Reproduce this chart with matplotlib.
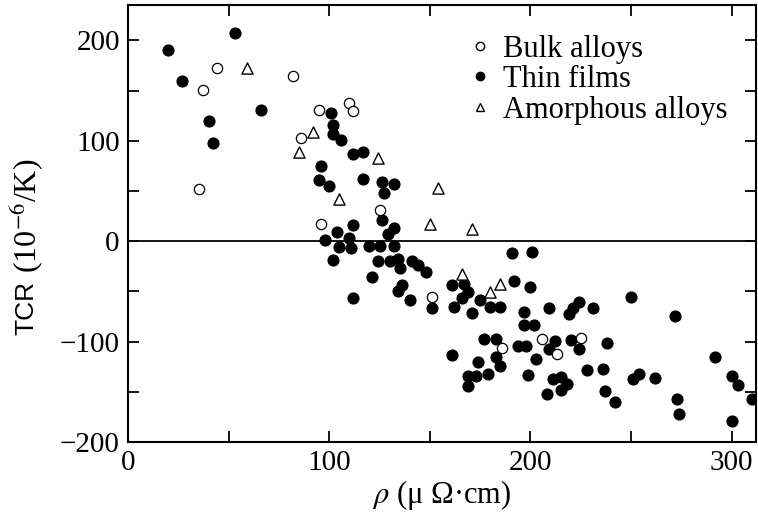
import matplotlib
matplotlib.use("Agg")
import matplotlib.pyplot as plt
from matplotlib.lines import Line2D
from matplotlib.ticker import MultipleLocator

plt.rcParams['font.family'] = ['Liberation Serif', 'DejaVu Serif']
plt.rcParams['mathtext.fontset'] = 'stix'

# resistivity (uOhm cm) and TCR (1e-6/K)
bulk_rho = [35, 37, 44, 82, 86, 95, 96, 110, 112, 125, 151, 186, 206, 213, 225]
bulk_tcr = [52, 151, 172, 165, 103, 131, 17, 138, 130, 31, -56, -106, -97, -112, -96]

amor_rho = [59, 85, 92, 105, 124, 150, 154, 171, 166, 180, 185]
amor_tcr = [172, 89, 109, 42, 83, 17, 53, 12, -33, -51, -43]

film_rho = [20, 27, 40, 42, 53, 66,
            95, 96, 98, 100, 101, 102, 102, 106, 112, 117, 117, 126, 132, 127,
            126, 112, 132, 129, 104, 110, 105, 111, 120, 125, 132, 102, 124, 130,
            134, 135, 141, 144, 148, 121, 136, 134, 140, 112, 151, 161, 167, 169,
            166, 162, 171, 175, 180, 185, 177, 183, 161, 174, 169, 173, 179, 169,
            183, 185, 191, 201, 192, 200, 197, 197, 202, 209, 219, 221, 224, 231,
            250, 272, 194, 198, 203, 199, 212, 209, 220, 224, 238, 211, 215, 218,
            215, 208, 228, 236, 237, 242, 251, 254, 262, 273, 274, 292, 300, 303,
            300, 310]
film_tcr = [190, 160, 120, 98, 207, 131,
            61, 75, 1, 55, 128, 116, 107, 101, 87, 89, 62, 59, 57, 48,
            21, 16, 13, 7, 9, 3, -6, -7, -5, -5, -5, -19, -20, -20,
            -18, -27, -20, -24, -31, -36, -44, -50, -59, -57, -67, -44, -43, -51,
            -57, -66, -72, -59, -66, -66, -97, -97, -113, -120, -134, -134, -132, -144,
            -115, -124, -12, -11, -40, -46, -71, -84, -84, -67, -73, -67, -61, -67,
            -56, -75, -104, -104, -117, -133, -99, -107, -98, -107, -101, -137, -135, -142,
            -148, -152, -128, -127, -149, -160, -137, -132, -136, -157, -172, -115, -134, -143,
            -179, -157]

fig = plt.figure(figsize=(7.58, 5.23), dpi=100)
ax = fig.add_axes([0.169, 0.155, 0.828, 0.835])

ax.axhline(0, color='black', lw=1.3, zorder=1)
ax.scatter(film_rho, film_tcr, s=60, c='black', edgecolors='black', zorder=3)
ax.scatter(bulk_rho, bulk_tcr, s=55, facecolors='white', edgecolors='black',
           linewidths=0.9, zorder=4)
ax.scatter(amor_rho, amor_tcr, s=65, marker='^', facecolors='white',
           edgecolors='black', linewidths=1.0, zorder=4)

ax.set_xlim(0, 312)
ax.set_ylim(-200, 235)
ax.xaxis.set_major_locator(MultipleLocator(100))
ax.xaxis.set_minor_locator(MultipleLocator(50))
ax.yaxis.set_major_locator(MultipleLocator(100))
ax.yaxis.set_minor_locator(MultipleLocator(50))
ax.tick_params(which='both', direction='in', top=True, right=True,
               length=8, width=1.3, labelsize=21, pad=6)
for sp in ax.spines.values():
    sp.set_linewidth(1.5)

ax.set_xlabel(r'$\rho$ (μ Ω·cm)', fontsize=22, labelpad=1)

# y label: sans "TCR" followed by serif units
fig.text(0.035, 0.462, 'TCR', family='Liberation Sans', fontsize=19,
         rotation=90, rotation_mode='anchor', ha='right', va='center')
fig.text(0.035, 0.462, r' (10$^{-6}$/K)', fontsize=23,
         rotation=90, rotation_mode='anchor', ha='left', va='center')

handles = [
    Line2D([], [], ls='none', marker='o', ms=6, mfc='white', mec='black', mew=1),
    Line2D([], [], ls='none', marker='o', ms=6, mfc='black', mec='black'),
    Line2D([], [], ls='none', marker='^', ms=6, mfc='white', mec='black', mew=1),
]
ax.legend(handles, ['Bulk alloys', 'Thin films', 'Amorphous alloys'],
          loc='upper left', bbox_to_anchor=(0.621, 0.934),
          bbox_transform=fig.transFigure, frameon=False, fontsize=22,
          handlelength=0.6, handletextpad=0.45, labelspacing=0.05,
          borderpad=0, borderaxespad=0)

fig.savefig('out.png', dpi=100)
